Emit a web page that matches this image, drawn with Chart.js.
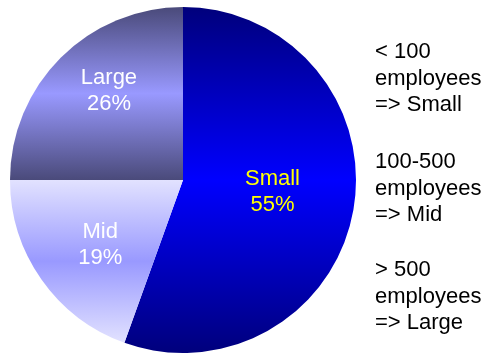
<!DOCTYPE html>
<html>
<head>
<meta charset="utf-8">
<script src="https://cdn.jsdelivr.net/npm/chart.js@4/dist/chart.umd.min.js"></script>
<style>
  html, body { margin: 0; padding: 0; background: #ffffff; }
  #wrap { position: relative; width: 487px; height: 353px; overflow: hidden; }
  #c { position: absolute; left: 0; top: 0; }
  .note { position: absolute; left: 375px; font-family: "Liberation Sans", Arial, sans-serif;
          font-size: 22px; line-height: 26.5px; color: #000; white-space: nowrap; }
</style>
</head>
<body>
<div id="wrap">
  <canvas id="c" width="487" height="353"></canvas>
  <div class="note" id="n1" style="top:38px"></div>
  <div class="note" id="n2" style="top:148px"></div>
  <div class="note" id="n3" style="top:256px"></div>
</div>
<script>
// ---- data ----
const categories = ["Small", "Mid", "Large"];
const shares = [55.5, 19.5, 25];          // slice sizes
const pctLabels = ["55%", "19%", "26%"];  // percentage text as printed on the slices
const noteLines = [
  ["< 100", "employees", "=> Small"],
  ["100-500", "employees", "=> Mid"],
  ["> 500", "employees", "=> Large"]
];

// notes text
noteLines.forEach((lines, i) => {
  document.getElementById("n" + (i + 1)).innerHTML = lines.map(s => s.replace(/&/g,"&amp;").replace(/</g,"&lt;").replace(/>/g,"&gt;")).join("<br>");
});

// ---- styles ----
const gradStops = [
  ["#00007c", "#0000ff", "#00007c"],  // Small
  ["#e2e2ff", "#9999ff", "#e2e2ff"],  // Mid
  ["#4a4a7a", "#9999ff", "#4a4a7a"]   // Large
];
const labelColors = ["#ffff00", "#ffffff", "#ffffff"];
const labelRadiusFrac = [0.52, 0.60, 0.68];
const labelAngleOffset = [-4, -2, 6];

function sliceGradient(context) {
  const chart = context.chart;
  const area = chart.chartArea;
  const i = context.dataIndex;
  if (!area) return gradStops[i][1];
  const cy = (area.top + area.bottom) / 2;
  const r = Math.min(area.right - area.left, area.bottom - area.top) / 2;
  let y0, y1;
  if (i === 0) { y0 = cy - r; y1 = cy + r; }
  else if (i === 1) { y0 = cy; y1 = cy + r * 0.94; }
  else { y0 = cy - r; y1 = cy; }
  const g = chart.ctx.createLinearGradient(0, y0, 0, y1);
  g.addColorStop(0, gradStops[i][0]);
  g.addColorStop(0.5, gradStops[i][1]);
  g.addColorStop(1, gradStops[i][2]);
  return g;
}

const sliceLabels = {
  id: "sliceLabels",
  afterDatasetsDraw(chart) {
    const ctx = chart.ctx;
    const meta = chart.getDatasetMeta(0);
    ctx.save();
    ctx.font = '22px "Liberation Sans", Arial, sans-serif';
    ctx.textAlign = "center";
    ctx.textBaseline = "middle";
    meta.data.forEach((arc, i) => {
      const p = arc.getProps(["x", "y", "startAngle", "endAngle", "outerRadius"], true);
      const mid = (p.startAngle + p.endAngle) / 2 + labelAngleOffset[i] * Math.PI / 180;
      const rr = p.outerRadius * labelRadiusFrac[i];
      const x = p.x + Math.cos(mid) * rr;
      const y = p.y + Math.sin(mid) * rr + 2.5;
      ctx.fillStyle = labelColors[i];
      ctx.fillText(categories[i], x, y - 13);
      ctx.fillText(pctLabels[i], x, y + 13);
    });
    ctx.restore();
  }
};

new Chart(document.getElementById("c"), {
  type: "pie",
  data: {
    labels: categories,
    datasets: [{
      data: shares,
      backgroundColor: sliceGradient,
      borderWidth: 0,
      hoverOffset: 0
    }]
  },
  options: {
    responsive: false,
    animation: false,
    layout: { padding: { left: 10, right: 131, top: 7, bottom: 0 } },
    plugins: {
      legend: { display: false },
      tooltip: { enabled: false }
    }
  },
  plugins: [sliceLabels]
});
</script>
</body>
</html>
